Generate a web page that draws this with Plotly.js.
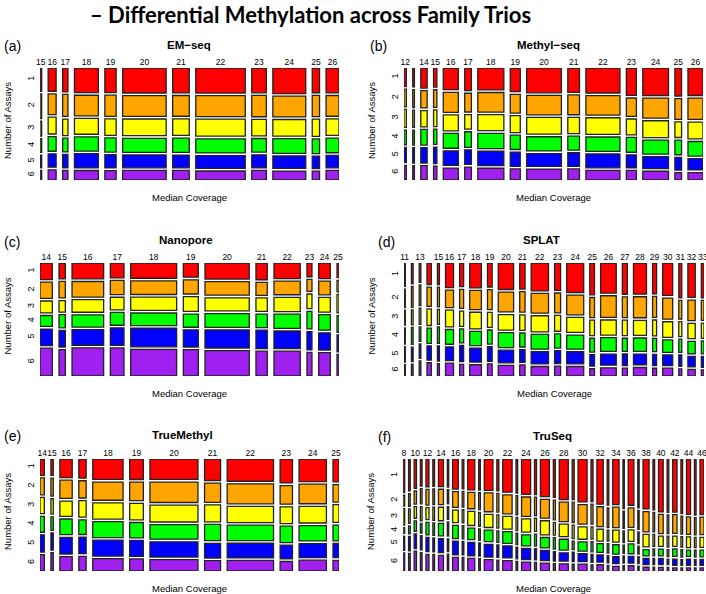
<!DOCTYPE html>
<html>
<head>
<meta charset="utf-8">
<script src="https://cdn.plot.ly/plotly-3.0.1.min.js"></script>
<style>html,body{margin:0;padding:0;background:#fff;}#chart{width:706px;height:594px;}</style>
</head>
<body>
<div id="chart"></div>
<script>
// ---------------- DATA ----------------
const assayLevels = ['1', '2', '3', '4', '5', '6'];
const assayColors = ['#FF0000', '#FFA500', '#FFFF00', '#00FF00', '#0000FF', '#A020F0'];

// (a) EM-seq
const emseqCoverage = [15, 16, 17, 18, 19, 20, 21, 22, 23, 24, 25, 26];
const emseqLabels = ['15', '16', '17', '18', '19', '20', '21', '22', '23', '24', '25', '26'];
const emseqRegions = [5, 24, 16, 72, 34, 131, 50, 149, 44, 99, 22, 39];
const emseqShares = [
  [73, 77, 47, 43, 40, 30], [73, 65, 53, 46, 42, 32], [75, 69, 52, 43, 42, 30],
  [78, 65, 50, 45, 45, 30], [78, 67, 52, 45, 42, 30], [78, 65, 52, 44, 40, 30],
  [78, 65, 52, 45, 40, 30], [78, 65, 53, 44, 40, 28], [78, 67, 52, 43, 41, 30],
  [80, 65, 52, 46, 39, 28], [78, 67, 54, 46, 39, 28], [78, 65, 52, 46, 39, 30]
];

// (b) Methyl-seq
const methylCoverage = [12, 13, 14, 15, 16, 17, 18, 19, 20, 21, 22, 23, 24, 25, 26];
const methylLabels = ['12', '', '14', '15', '16', '17', '18', '19', '20', '21', '22', '23', '24', '25', '26'];
const methylRegions = [7, 5, 19, 10, 45, 20, 78, 30, 104, 35, 102, 30, 77, 20, 45];
const methylShares = [
  [57, 54, 55, 45, 47, 45], [58, 55, 53, 46, 47, 44], [63, 54, 51, 49, 48, 45],
  [60, 55, 52, 48, 52, 43], [67, 62, 49, 46, 45, 37], [70, 58, 45, 48, 45, 40],
  [67, 60, 49, 47, 44, 36], [73, 58, 52, 44, 44, 34], [77, 60, 52, 44, 40, 34],
  [75, 61, 50, 43, 42, 34], [78, 61, 52, 45, 43, 30], [85, 57, 49, 46, 40, 30],
  [85, 62, 52, 43, 37, 27], [88, 65, 49, 46, 40, 23], [85, 66, 52, 45, 35, 23]
];

// (c) Nanopore
const nanoCoverage = [14, 15, 16, 17, 18, 19, 20, 21, 22, 23, 24, 25];
const nanoLabels = ['14', '15', '16', '17', '18', '19', '20', '21', '22', '23', '24', '25'];
const nanoRegions = [37, 19, 95, 41, 138, 45, 133, 34, 79, 15, 35, 6];
const nanoShares = [
  [50, 49, 36, 33, 50, 84], [48, 50, 35, 40, 50, 80], [48, 47, 38, 37, 47, 85],
  [45, 43, 38, 39, 53, 85], [47, 42, 41, 39, 57, 82], [43, 43, 45, 40, 52, 80],
  [50, 42, 41, 43, 56, 79], [52, 40, 42, 42, 57, 77], [48, 42, 44, 44, 54, 77],
  [42, 37, 45, 54, 56, 72], [48, 42, 45, 48, 53, 72], [45, 35, 57, 51, 52, 66]
];

// (d) SPLAT
const splatCoverage = [11, 12, 13, 14, 15, 16, 17, 18, 19, 20, 21, 22, 23, 24, 25, 26, 27, 28, 29, 30, 31, 32, 33];
const splatLabels = ['11', '', '13', '', '15', '16', '17', '18', '19', '20', '21', '22', '23', '24', '25', '26', '27', '28', '29', '30', '31', '32', '33'];
const splatRegions = [4, 5, 5, 13, 6, 24, 12, 35, 14, 46, 16, 52, 18, 51, 14, 47, 15, 39, 12, 30, 9, 22, 8];
const splatShares = [
  [72, 57, 46, 50, 47, 35], [65, 65, 46, 53, 45, 37], [60, 65, 50, 45, 45, 47],
  [65, 58, 50, 46, 43, 40], [65, 59, 45, 49, 46, 37], [75, 53, 51, 45, 42, 39],
  [73, 59, 47, 43, 50, 36], [75, 58, 50, 43, 42, 34], [73, 61, 46, 43, 44, 37],
  [80, 60, 47, 45, 38, 32], [80, 63, 48, 43, 39, 34], [85, 60, 49, 45, 37, 29],
  [83, 60, 48, 43, 39, 30], [90, 60, 46, 43, 37, 29], [97, 61, 47, 42, 35, 22],
  [92, 66, 46, 42, 34, 25], [95, 63, 47, 40, 35, 24], [95, 64, 46, 41, 33, 26],
  [95, 65, 49, 41, 35, 24], [100, 65, 48, 38, 33, 24], [107, 57, 46, 40, 35, 22],
  [105, 63, 47, 38, 32, 20], [107, 62, 47, 40, 33, 19]
];

// (e) TrueMethyl
const trueCoverage = [14, 15, 16, 17, 18, 19, 20, 21, 22, 23, 24, 25];
const trueLabels = ['14', '15', '16', '17', '18', '19', '20', '21', '22', '23', '24', '25'];
const trueRegions = [13, 7, 37, 22, 91, 41, 144, 48, 139, 37, 82, 18];
const trueShares = [
  [50, 52, 50, 49, 53, 50], [50, 55, 47, 41, 52, 56], [58, 57, 48, 49, 52, 45],
  [60, 54, 52, 46, 52, 46], [63, 56, 50, 49, 49, 38], [63, 57, 51, 47, 49, 37],
  [63, 63, 52, 45, 47, 35], [66, 59, 52, 50, 45, 32], [69, 62, 50, 48, 45, 33],
  [73, 57, 51, 50, 42, 29], [69, 60, 51, 47, 43, 33], [71, 54, 55, 49, 44, 33]
];

// (f) TruSeq
const truseqCoverage = [8, 9, 10, 11, 12, 13, 14, 15, 16, 17, 18, 19, 20, 21, 22, 23, 24, 25, 26, 27, 28, 29, 30, 31, 32, 33, 34, 35, 36, 37, 38, 39, 40, 41, 42, 43, 44, 45, 46];
const truseqLabels = ['8', '', '10', '', '12', '', '14', '', '16', '', '18', '', '20', '', '22', '', '24', '', '26', '', '28', '', '30', '', '32', '', '34', '', '36', '', '38', '', '40', '', '42', '', '44', '', '46'];
const truseqRegions = [5, 5, 7, 5, 9, 5, 15, 4, 17, 5, 21, 5, 26, 6, 28, 5, 27, 6, 27, 6, 27, 6, 27, 6, 19, 5, 19, 4, 17, 4, 18, 5, 14, 5, 13, 5, 12, 5, 12];
const truseqShares = [
  [106, 34, 52, 18, 45, 57], [100, 40, 45, 25, 45, 55], [93, 42, 37, 33, 47, 63],
  [85, 48, 45, 30, 45, 58], [88, 50, 38, 40, 45, 53], [88, 50, 42, 40, 45, 53],
  [88, 49, 43, 40, 45, 50], [88, 45, 40, 45, 40, 53], [95, 50, 40, 42, 43, 43],
  [95, 50, 42, 42, 43, 43], [98, 52, 45, 37, 43, 40], [100, 55, 45, 37, 42, 40],
  [100, 60, 42, 37, 41, 36], [102, 60, 43, 37, 40, 35], [105, 60, 40, 37, 38, 33],
  [108, 60, 42, 36, 37, 30], [112, 61, 42, 35, 35, 28], [112, 58, 42, 38, 35, 27],
  [120, 60, 45, 33, 32, 25], [122, 63, 40, 36, 30, 23], [130, 62, 40, 35, 27, 23],
  [130, 65, 43, 27, 30, 22], [138, 63, 40, 30, 25, 22], [138, 65, 40, 33, 25, 20],
  [145, 64, 38, 28, 23, 20], [148, 63, 35, 30, 23, 18], [145, 65, 38, 30, 22, 15],
  [158, 55, 37, 26, 23, 17], [150, 63, 37, 32, 22, 17], [155, 60, 37, 25, 22, 15],
  [160, 65, 40, 20, 20, 12], [162, 62, 38, 22, 20, 12], [170, 62, 33, 22, 20, 12],
  [172, 60, 35, 22, 18, 12], [170, 60, 33, 24, 20, 10], [175, 58, 33, 24, 18, 10],
  [177, 56, 34, 20, 20, 10], [180, 55, 33, 22, 18, 10], [180, 57, 33, 22, 19, 10]
];

// ---------------- LAYOUT / DRAWING ----------------
const FIG_W = 706, FIG_H = 594;
const FONT = 'Liberation Sans, Arial, Helvetica, sans-serif';

const panels = [
  {tag: '(a)', title: 'EM\u2212seq', cov: emseqCoverage, labels: emseqLabels, counts: emseqRegions, shares: emseqShares,
   px: [40, 339], py: [68, 180], hgap: 6.5, titleX: 189, titleY: 45, tagX: 2, tagY: 46},
  {tag: '(b)', title: 'Methyl\u2212seq', cov: methylCoverage, labels: methylLabels, counts: methylRegions, shares: methylShares,
   px: [404, 703], py: [68, 180], hgap: 6.4, titleX: 548, titleY: 45, tagX: 368, tagY: 46},
  {tag: '(c)', title: 'Nanopore', cov: nanoCoverage, labels: nanoLabels, counts: nanoRegions, shares: nanoShares,
   px: [40, 339], py: [263, 376], hgap: 6.7, titleX: 186, titleY: 240, tagX: 2, tagY: 242},
  {tag: '(d)', title: 'SPLAT', cov: splatCoverage, labels: splatLabels, counts: splatRegions, shares: splatShares,
   px: [404, 704], py: [263, 376], hgap: 6.1, titleX: 541, titleY: 240, tagX: 376, tagY: 242},
  {tag: '(e)', title: 'TrueMethyl', cov: trueCoverage, labels: trueLabels, counts: trueRegions, shares: trueShares,
   px: [40, 339], py: [459, 571], hgap: 6.6, titleX: 182, titleY: 435, tagX: 2, tagY: 436},
  {tag: '(f)', title: 'TruSeq', cov: truseqCoverage, labels: truseqLabels, counts: truseqRegions, shares: truseqShares,
   px: [403, 704], py: [459, 571], hgap: 3.9, titleX: 552, titleY: 436, tagX: 376, tagY: 437}
];

const VGAP = 2.6;
const traces = [];
const layout = {
  width: FIG_W, height: FIG_H,
  margin: {l: 0, r: 0, t: 0, b: 0},
  paper_bgcolor: '#ffffff', plot_bgcolor: '#ffffff',
  barmode: 'overlay',
  showlegend: false,
  font: {family: FONT, color: '#000'},
  annotations: []
};

function sum(a) { return a.reduce((s, v) => s + v, 0); }

panels.forEach((p, i) => {
  const n = i + 1;
  const xa = 'x' + (n === 1 ? '' : n), ya = 'y' + (n === 1 ? '' : n);
  const W = p.px[1] - p.px[0], H = p.py[1] - p.py[0];
  const k = (W - p.hgap * (p.counts.length - 1)) / sum(p.counts);
  const xs = [], ws = [];
  let pos = 0;
  p.counts.forEach(c => { const w = c * k; xs.push(pos + w / 2); ws.push(w); pos += w + p.hgap; });
  const avail = H - VGAP * (assayLevels.length - 1);

  const tops = [], hts = [];
  p.shares.forEach(s => {
    const t = sum(s); let cur = 0; const tp = [], hh = [];
    s.forEach(v => { const h = v / t * avail; tp.push(cur); hh.push(h); cur += h + VGAP; });
    tops.push(tp); hts.push(hh);
  });

  assayLevels.forEach((lvl, r) => {
    traces.push({
      type: 'bar', orientation: 'v',
      x: xs, width: ws,
      base: tops.map(t => t[r]), y: hts.map(h => h[r]),
      customdata: p.cov,
      name: lvl,
      marker: {color: assayColors[r], line: {color: '#222', width: 1.3}},
      xaxis: xa, yaxis: ya, hoverinfo: 'skip', showlegend: false
    });
  });

  const yTickVals = assayLevels.map((_, r) => tops[0][r] + hts[0][r] / 2);
  const xKey = 'xaxis' + (n === 1 ? '' : n), yKey = 'yaxis' + (n === 1 ? '' : n);
  layout[xKey] = {
    domain: [p.px[0] / FIG_W, p.px[1] / FIG_W], anchor: ya, side: 'top',
    range: [0, W], showgrid: false, zeroline: false, showline: false, ticks: '',
    tickmode: 'array', tickvals: xs, ticktext: p.labels, tickangle: 0,
    ticklabeloverflow: 'allow',
    tickfont: {family: FONT, size: 8.5, color: '#000'}, fixedrange: true
  };
  layout[yKey] = {
    domain: [1 - p.py[1] / FIG_H, 1 - p.py[0] / FIG_H], anchor: xa,
    range: [H, 0], showgrid: false, zeroline: false, showline: false, ticks: '',
    tickmode: 'array', tickvals: yTickVals, ticktext: assayLevels, tickangle: -90,
    ticklabelstandoff: 3, ticklabeloverflow: 'allow',
    tickfont: {family: FONT, size: 9, color: '#000'}, fixedrange: true
  };

  const ann = layout.annotations;
  ann.push({xref: 'paper', yref: 'paper', x: p.tagX / FIG_W, y: 1 - p.tagY / FIG_H, xanchor: 'left', yanchor: 'middle',
            text: p.tag, showarrow: false, font: {family: FONT, size: 14, color: '#000'}});
  ann.push({xref: 'paper', yref: 'paper', x: p.titleX / FIG_W, y: 1 - p.titleY / FIG_H, xanchor: 'center', yanchor: 'middle',
            text: '<b>' + p.title + '</b>', showarrow: false, font: {family: FONT, size: 11.5, color: '#000'}});
  ann.push({xref: 'paper', yref: 'paper', x: (p.px[0] + W / 2) / FIG_W, y: 1 - (p.py[1] + 17) / FIG_H, xanchor: 'center', yanchor: 'middle',
            text: 'Median Coverage', showarrow: false, font: {family: FONT, size: 9.5, color: '#000'}});
  ann.push({xref: 'paper', yref: 'paper', x: (p.px[0] - 33) / FIG_W, y: 1 - (p.py[0] + H / 2 - 3) / FIG_H, xanchor: 'center', yanchor: 'middle',
            text: 'Number of Assays', textangle: -90, showarrow: false, font: {family: FONT, size: 9.5, color: '#000'}});
});

layout.annotations.push({
  xref: 'paper', yref: 'paper', x: 310 / FIG_W, y: 1 - 14 / FIG_H, xanchor: 'center', yanchor: 'middle',
  text: '<b>\u2013 Differential Methylation across Family Trios</b>', showarrow: false,
  font: {family: 'Lato, Open Sans, sans-serif', size: 22, color: '#000'}
});

Plotly.newPlot('chart', traces, layout, {staticPlot: true, displayModeBar: false});
</script>
</body>
</html>
